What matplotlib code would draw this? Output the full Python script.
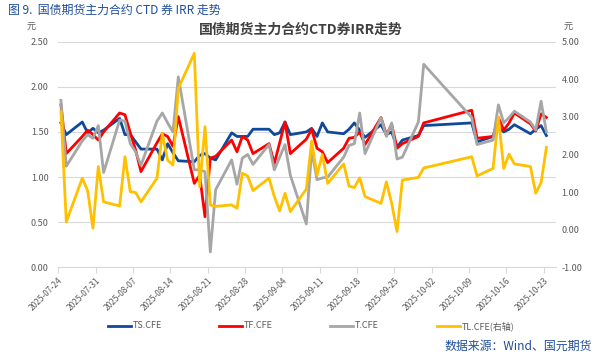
import matplotlib
matplotlib.use("Agg")
import matplotlib.pyplot as plt
import matplotlib.dates as mdates
from matplotlib.lines import Line2D
import pandas as pd

plt.rcParams['font.family'] = ['Noto Sans CJK SC', 'DejaVu Sans']

# trading days shown in the chart
dates = ["2025-07-24", "2025-07-25",
         "2025-07-28", "2025-07-29", "2025-07-30", "2025-07-31", "2025-08-01",
         "2025-08-04", "2025-08-05", "2025-08-06", "2025-08-07", "2025-08-08",
         "2025-08-11", "2025-08-12", "2025-08-13", "2025-08-14", "2025-08-15",
         "2025-08-18", "2025-08-19", "2025-08-20", "2025-08-21", "2025-08-22",
         "2025-08-25", "2025-08-26", "2025-08-27", "2025-08-28", "2025-08-29",
         "2025-09-01", "2025-09-02", "2025-09-03", "2025-09-04", "2025-09-05",
         "2025-09-08", "2025-09-09", "2025-09-10", "2025-09-11", "2025-09-12",
         "2025-09-15", "2025-09-16", "2025-09-17", "2025-09-18", "2025-09-19",
         "2025-09-22", "2025-09-23", "2025-09-24", "2025-09-25", "2025-09-26",
         "2025-09-29", "2025-09-30", "2025-10-09", "2025-10-10",
         "2025-10-13", "2025-10-14", "2025-10-15", "2025-10-16", "2025-10-17",
         "2025-10-20", "2025-10-21", "2025-10-22", "2025-10-23"]

ts_cfe = [1.60, 1.47,
          1.61, 1.49, 1.54, 1.49, 1.52,
          1.65, 1.47, 1.47, 1.39, 1.31,
          1.31, 1.19, 1.37, 1.27, 1.18,
          1.17, 1.24, 1.26, 1.21, 1.19,
          1.49, 1.45, 1.45, 1.45, 1.53,
          1.53, 1.47, 1.49, 1.61, 1.47,
          1.50, 1.54, 1.45, 1.60, 1.50,
          1.48, 1.53, 1.60, 1.52, 1.44,
          1.58, 1.47, 1.50, 1.33, 1.41,
          1.46, 1.57, 1.60, 1.39,
          1.45, 1.55, 1.50, 1.53, 1.58,
          1.48, 1.53, 1.57, 1.46]

tf_cfe = [1.80, 1.26,
          1.45, 1.52, 1.47, 1.41, 1.50,
          1.71, 1.69, 1.49, 1.30, 1.06,
          1.38, 1.48, 1.45, 1.34, 1.67,
          0.93, 1.02, 0.56, 1.21, 1.23,
          1.41, 1.28, 1.45, 1.41, 1.26,
          1.37, 1.15, 1.38, 1.61, 1.26,
          1.42, 1.53, 1.32, 1.28, 1.16,
          1.32, 1.43, 1.44, 1.50, 1.36,
          1.66, 1.47, 1.58, 1.32, 1.37,
          1.45, 1.60, 1.74, 1.43,
          1.45, 1.66, 1.52, 1.60, 1.71,
          1.59, 1.51, 1.70, 1.66]

t_cfe = [1.85, 1.12,
         1.40, 1.47, 1.43, 1.57, 1.05,
         1.63, 1.62, 1.37, 1.28, 1.13,
         1.62, 1.71, 1.60, 1.50, 2.11,
         1.08, 1.08, 1.06, 0.17, 0.86,
         1.19, 0.92, 1.21, 1.25, 1.14,
         1.36, 1.08, 1.22, 1.36, 1.02,
         0.48, 1.30, 0.97, 0.99, 1.00,
         1.22, 1.35, 1.37, 1.71, 1.26,
         1.66, 1.45, 1.60, 1.20, 1.22,
         1.61, 2.25, 1.66, 1.36,
         1.41, 1.80, 1.60, 1.66, 1.73,
         1.61, 1.52, 1.84, 1.50]

# right axis
tl_cfe = [3.14, 0.21,
          1.37, 1.04, 0.04, 1.68, 0.74,
          0.63, 1.94, 1.01, 0.99, 0.74,
          1.37, 2.56, 1.85, 1.72, 3.76,
          4.69, 1.14, 2.74, 0.66, 0.62,
          0.66, 0.57, 1.50, 1.43, 1.04,
          1.37, 0.88, 0.50, 0.97, 0.48,
          1.08, 2.36, 1.45, 2.00, 1.23,
          1.75, 1.16, 1.12, 1.38, 0.88,
          0.70, 1.27, 0.70, -0.05, 1.32,
          1.39, 1.64, 1.94, 1.43,
          1.63, 3.00, 1.63, 2.01, 1.75,
          1.68, 0.97, 1.25, 2.19]

series_names = ["TS.CFE", "TF.CFE", "T.CFE", "TL.CFE(右轴)"]
colors = ["#0e4a9c", "#ff0000", "#a6a6a6", "#ffc000"]
left_ticks = [0.0, 0.5, 1.0, 1.5, 2.0, 2.5]
right_ticks = [-1, 0, 1, 2, 3, 4, 5]

x = pd.to_datetime(dates) + pd.Timedelta(hours=12)
start = pd.Timestamp("2025-07-24")
xticks = [start + pd.Timedelta(days=7 * k) for k in range(14)]

fig = plt.figure(figsize=(6.02, 3.57), dpi=100)
ax = fig.add_axes([0.0968, 0.2513, 0.8268, 0.6319])
ax2 = ax.twinx()

lw = 2.0
ax.plot(x, ts_cfe, color=colors[0], lw=lw)
ax.plot(x, tf_cfe, color=colors[1], lw=lw)
ax.plot(x, t_cfe, color=colors[2], lw=lw)
ax2.plot(x, tl_cfe, color=colors[3], lw=lw)

ax.set_xlim(start, start + pd.Timedelta(days=93.3))
ax.set_ylim(0, 2.5)
ax2.set_ylim(-1, 5)
ax.set_yticks(left_ticks)
ax.set_yticklabels([f"{v:.2f}" for v in left_ticks])
ax2.set_yticks(right_ticks)
ax2.set_yticklabels([f"{v:.2f}" for v in right_ticks])

ax.set_xticks(xticks)
ax.xaxis.set_major_formatter(mdates.DateFormatter("%Y-%m-%d"))
for lab in ax.get_xticklabels():
    lab.set_rotation(45)
    lab.set_ha("right")
    lab.set_rotation_mode("anchor")

ax.yaxis.grid(True, color="#d9d9d9", lw=0.8)
ax.set_axisbelow(True)
for a in (ax, ax2):
    for s in ("top", "left", "right"):
        a.spines[s].set_visible(False)
    a.spines["bottom"].set_color("#d9d9d9")
ax2.spines["bottom"].set_visible(False)

ax.tick_params(axis="y", length=0, labelsize=6.5, labelcolor="#595959", pad=7)
ax2.tick_params(axis="y", length=0, labelsize=6.5, labelcolor="#595959", pad=4)
ax.tick_params(axis="x", length=4, color="#d9d9d9", labelsize=6, labelcolor="#595959", pad=2)

# titles and unit labels
fig.text(8 / 602, 1 - 10 / 357, "图 9.  国债期货主力合约 CTD 券 IRR 走势", color="#1f4e9a",
         fontsize=8.6, ha="left", va="center")
fig.text(0.5, 1 - 30 / 357, "国债期货主力合约CTD券IRR走势", color="#404040",
         fontsize=10, fontweight="bold", ha="center", va="center")
fig.text(31 / 602, 1 - 27 / 357, "元", color="#595959", fontsize=6.5, ha="center", va="center")
fig.text(568 / 602, 1 - 27 / 357, "元", color="#595959", fontsize=6.5, ha="center", va="center")

# legend
leg_x = [108, 219, 330, 437]
leg_y = 1 - 326 / 357
for lx, name, c in zip(leg_x, series_names, colors):
    fig.add_artist(Line2D([lx / 602, (lx + 23) / 602], [leg_y, leg_y], color=c, lw=2.0))
    fig.text((lx + 25) / 602, leg_y, name, color="#595959", fontsize=6.5, ha="left", va="center")

fig.text(592 / 602, 1 - 346 / 357, "数据来源：Wind、国元期货", color="#1f4e9a",
         fontsize=8.6, ha="right", va="center")

fig.savefig("out.png", dpi=100)
